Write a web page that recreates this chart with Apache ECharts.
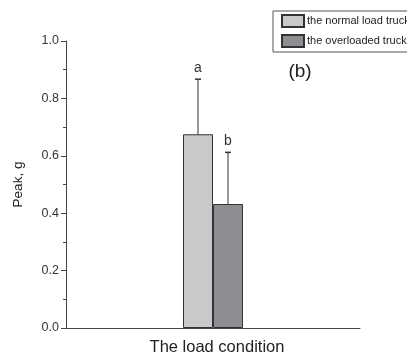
<!DOCTYPE html>
<html>
<head>
<meta charset="utf-8">
<script src="https://cdn.jsdelivr.net/npm/echarts@6/dist/echarts.min.js"></script>
<style>html,body{margin:0;padding:0;background:#fff;}#c{width:407px;height:356px;}</style>
</head>
<body>
<div id="c"></div>
<script>
var categories = [''];
var seriesNames = ['the normal load truck', 'the overloaded truck'];
var normalValues = [0.675];
var overloadValues = [0.432];
var normalErrTop = [0.867];
var overloadErrTop = [0.612];
var sigLetters = ['a', 'b'];
var yTicks = [0, 0.2, 0.4, 0.6, 0.8, 1.0];

var chart = echarts.init(document.getElementById('c'), null, {renderer: 'canvas'});
var font = 'Liberation Sans, Arial, Helvetica, sans-serif';
var colors = ['#c8c9cb', '#8d8e92'];

function errSeries(idx, tops, vals) {
  return {
    type: 'custom',
    name: 'err' + idx,
    z: 5,
    silent: true,
    data: tops.map(function (t, i) { return [i, vals[i], t]; }),
    renderItem: function (params, api) {
      var c = api.coord([api.value(0), api.value(1)]);
      var top = api.coord([api.value(0), api.value(2)]);
      var off = (idx === 0 ? -15 : 15);
      var x = c[0] + off;
      return {
        type: 'group',
        children: [
          {type: 'line', shape: {x1: x, y1: c[1], x2: x, y2: top[1]}, style: {stroke: '#333', lineWidth: 1}},
          {type: 'line', shape: {x1: x - 3, y1: top[1], x2: x + 3, y2: top[1]}, style: {stroke: '#333', lineWidth: 1.5}},
          {type: 'text', style: {text: sigLetters[idx], x: x, y: top[1] - 4, textAlign: 'center', textVerticalAlign: 'bottom', font: '14px ' + font, fill: '#333'}}
        ]
      };
    }
  };
}

chart.setOption({
  animation: false,
  backgroundColor: '#fff',
  grid: {left: 66, right: 47, top: 41, bottom: 28, containLabel: false, outerBoundsMode: 'none'},
  legend: {
    orient: 'vertical',
    left: 273, top: 11,
    data: seriesNames,
    itemWidth: 22, itemHeight: 12, itemGap: 6,
    padding: [3, 40, 4, 8],
    borderColor: '#555', borderWidth: 1,
    textStyle: {fontSize: 11, fontFamily: font, color: '#222', padding: [0, 0, 0, -2]},
    icon: 'rect'
  },
  graphic: [{type: 'text', x: 300, y: 72, style: {text: '(b)', font: '19px ' + font, fill: '#222', textAlign: 'center', textVerticalAlign: 'middle'}}],
  xAxis: {
    type: 'category',
    data: categories,
    name: 'The load condition',
    nameLocation: 'middle',
    nameGap: 11,
    nameTextStyle: {fontSize: 16.5, fontFamily: font, color: '#222', verticalAlign: 'top', padding: [0, 0, 0, 8]},
    axisLine: {lineStyle: {color: '#444', width: 1}},
    axisTick: {alignWithLabel: true, length: 6, lineStyle: {color: '#444'}},
    axisLabel: {show: false},
    splitLine: {show: false}
  },
  yAxis: {
    type: 'value',
    min: 0, max: 1.0, interval: 0.2,
    name: 'Peak, g',
    nameLocation: 'middle',
    nameGap: 41,
    nameTextStyle: {fontSize: 13.5, fontFamily: font, color: '#222'},
    axisLine: {show: true, lineStyle: {color: '#444', width: 1}},
    axisTick: {show: true, length: 5, lineStyle: {color: '#444'}},
    minorTick: {show: true, splitNumber: 2, length: 3, lineStyle: {color: '#444'}},
    axisLabel: {fontSize: 12.5, fontFamily: font, color: '#333', margin: 7,
      formatter: function (v) { return v.toFixed(1); }},
    splitLine: {show: false}
  },
  series: [
    {type: 'bar', name: seriesNames[0], data: normalValues, barWidth: 30, barGap: '0%',
      itemStyle: {color: colors[0], borderColor: '#333', borderWidth: 1}},
    {type: 'bar', name: seriesNames[1], data: overloadValues, barWidth: 30, barGap: '0%',
      itemStyle: {color: colors[1], borderColor: '#333', borderWidth: 1}},
    errSeries(0, normalErrTop, normalValues),
    errSeries(1, overloadErrTop, overloadValues)
  ]
});
</script>
</body>
</html>
